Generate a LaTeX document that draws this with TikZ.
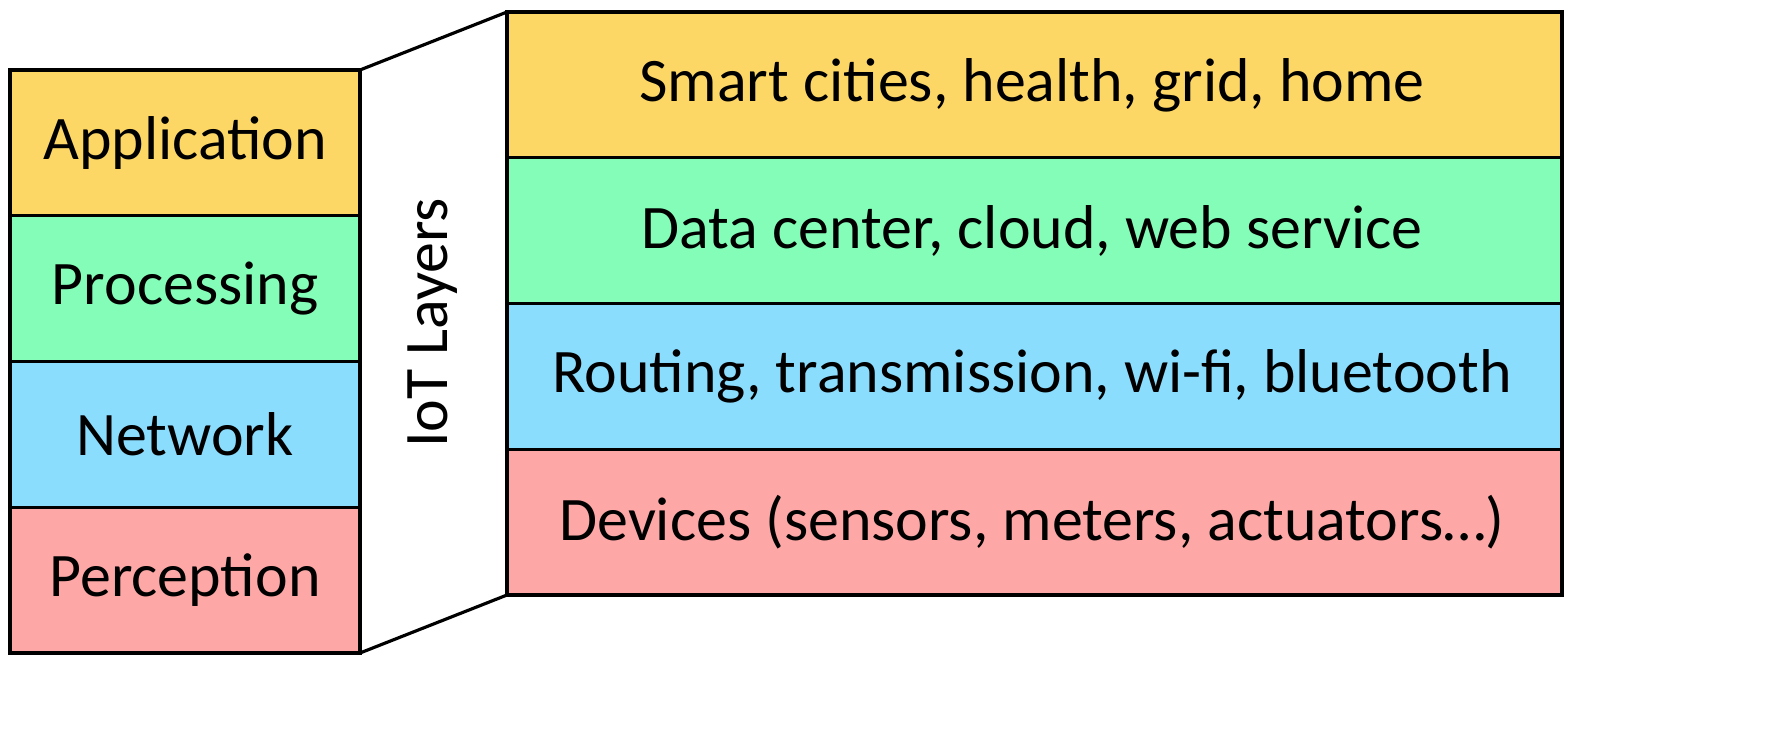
\documentclass[tikz,border=0pt]{standalone}
\usepackage{fontspec}
\setmainfont{Carlito}
\definecolor{cY}{HTML}{FDD766}
\definecolor{cG}{HTML}{84FDB8}
\definecolor{cB}{HTML}{8BDDFD}
\definecolor{cR}{HTML}{FDA7A7}
\begin{document}
\begin{tikzpicture}[x=0.01cm,y=-0.01cm,
  lay/.style={draw=black,line width=0.9pt},
  txt/.style={font=\fontsize{17.6}{20}\selectfont}]
\useasboundingbox (0,0) rectangle (1772,751);
% left stack
\foreach \c/\t [count=\i from 0] in {cY/Application,cG/Processing,cB/Network,cR/Perception}{
  \path[lay,fill=\c] (10,{70+145.75*\i}) rectangle (360,{70+145.75*(\i+1)});
  \node[txt] (l\i) at (185,{70+145.75*(\i+0.5)}) {\t};
}
% right stack
\foreach \c/\t [count=\i from 0] in {cY/{Smart cities, health, grid, home},cG/{Data center, cloud, web service},cB/{Routing, transmission, wi-fi, bluetooth},cR/{Devices (sensors, meters, actuators…)}}{
  \path[lay,fill=\c] (507,{12+145.75*\i}) rectangle (1562,{12+145.75*(\i+1)});
  \node[txt] (r\i) at (1032,{12+145.75*(\i+0.5)}) {\t};
}
\draw[line width=0.9pt] (360,70) -- (507,12);
\draw[line width=0.9pt] (360,653) -- (507,595);
\node[rotate=90,txt] (t) at (433,323) {IoT Layers};
\end{tikzpicture}
\end{document}
